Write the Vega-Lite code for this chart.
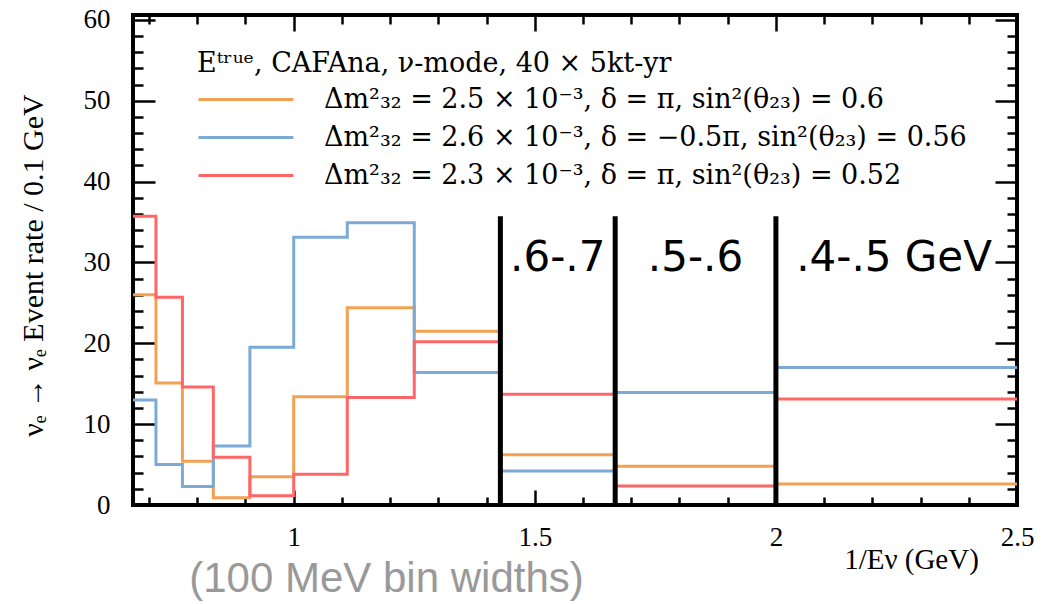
{
  "$schema": "https://vega.github.io/schema/vega-lite/v6.json",
  "width": 884,
  "height": 490,
  "autosize": {"type": "none"},
  "padding": {"left": 133, "top": 15, "right": 24, "bottom": 99},
  "background": "white",
  "config": {
    "view": {"stroke": "black", "strokeWidth": 4},
    "axis": {"grid": false, "domain": false}
  },
  "datasets": {
    "hist": [
      {"series": "Δm²₃₂ = 2.5 × 10⁻³,  δ = π,  sin²(θ₂₃) = 0.6", "x": 0.6667, "rate": 26.0},
      {"series": "Δm²₃₂ = 2.5 × 10⁻³,  δ = π,  sin²(θ₂₃) = 0.6", "x": 0.7143, "rate": 15.1},
      {"series": "Δm²₃₂ = 2.5 × 10⁻³,  δ = π,  sin²(θ₂₃) = 0.6", "x": 0.7692, "rate": 5.4},
      {"series": "Δm²₃₂ = 2.5 × 10⁻³,  δ = π,  sin²(θ₂₃) = 0.6", "x": 0.8333, "rate": 0.9},
      {"series": "Δm²₃₂ = 2.5 × 10⁻³,  δ = π,  sin²(θ₂₃) = 0.6", "x": 0.9091, "rate": 3.5},
      {"series": "Δm²₃₂ = 2.5 × 10⁻³,  δ = π,  sin²(θ₂₃) = 0.6", "x": 1.0, "rate": 13.4},
      {"series": "Δm²₃₂ = 2.5 × 10⁻³,  δ = π,  sin²(θ₂₃) = 0.6", "x": 1.1111, "rate": 24.4},
      {"series": "Δm²₃₂ = 2.5 × 10⁻³,  δ = π,  sin²(θ₂₃) = 0.6", "x": 1.25, "rate": 21.5},
      {"series": "Δm²₃₂ = 2.5 × 10⁻³,  δ = π,  sin²(θ₂₃) = 0.6", "x": 1.4286, "rate": 6.2},
      {"series": "Δm²₃₂ = 2.5 × 10⁻³,  δ = π,  sin²(θ₂₃) = 0.6", "x": 1.6667, "rate": 4.8},
      {"series": "Δm²₃₂ = 2.5 × 10⁻³,  δ = π,  sin²(θ₂₃) = 0.6", "x": 2.0, "rate": 2.6},
      {"series": "Δm²₃₂ = 2.5 × 10⁻³,  δ = π,  sin²(θ₂₃) = 0.6", "x": 2.5, "rate": 2.6},
      {"series": "Δm²₃₂ = 2.6 × 10⁻³,  δ = −0.5π,  sin²(θ₂₃) = 0.56", "x": 0.6667, "rate": 13.0},
      {"series": "Δm²₃₂ = 2.6 × 10⁻³,  δ = −0.5π,  sin²(θ₂₃) = 0.56", "x": 0.7143, "rate": 5.0},
      {"series": "Δm²₃₂ = 2.6 × 10⁻³,  δ = −0.5π,  sin²(θ₂₃) = 0.56", "x": 0.7692, "rate": 2.3},
      {"series": "Δm²₃₂ = 2.6 × 10⁻³,  δ = −0.5π,  sin²(θ₂₃) = 0.56", "x": 0.8333, "rate": 7.3},
      {"series": "Δm²₃₂ = 2.6 × 10⁻³,  δ = −0.5π,  sin²(θ₂₃) = 0.56", "x": 0.9091, "rate": 19.5},
      {"series": "Δm²₃₂ = 2.6 × 10⁻³,  δ = −0.5π,  sin²(θ₂₃) = 0.56", "x": 1.0, "rate": 33.1},
      {"series": "Δm²₃₂ = 2.6 × 10⁻³,  δ = −0.5π,  sin²(θ₂₃) = 0.56", "x": 1.1111, "rate": 34.9},
      {"series": "Δm²₃₂ = 2.6 × 10⁻³,  δ = −0.5π,  sin²(θ₂₃) = 0.56", "x": 1.25, "rate": 16.4},
      {"series": "Δm²₃₂ = 2.6 × 10⁻³,  δ = −0.5π,  sin²(θ₂₃) = 0.56", "x": 1.4286, "rate": 4.2},
      {"series": "Δm²₃₂ = 2.6 × 10⁻³,  δ = −0.5π,  sin²(θ₂₃) = 0.56", "x": 1.6667, "rate": 13.9},
      {"series": "Δm²₃₂ = 2.6 × 10⁻³,  δ = −0.5π,  sin²(θ₂₃) = 0.56", "x": 2.0, "rate": 17.0},
      {"series": "Δm²₃₂ = 2.6 × 10⁻³,  δ = −0.5π,  sin²(θ₂₃) = 0.56", "x": 2.5, "rate": 17.0},
      {"series": "Δm²₃₂ = 2.3 × 10⁻³,  δ = π,  sin²(θ₂₃) = 0.52", "x": 0.6667, "rate": 35.7},
      {"series": "Δm²₃₂ = 2.3 × 10⁻³,  δ = π,  sin²(θ₂₃) = 0.52", "x": 0.7143, "rate": 25.7},
      {"series": "Δm²₃₂ = 2.3 × 10⁻³,  δ = π,  sin²(θ₂₃) = 0.52", "x": 0.7692, "rate": 14.6},
      {"series": "Δm²₃₂ = 2.3 × 10⁻³,  δ = π,  sin²(θ₂₃) = 0.52", "x": 0.8333, "rate": 5.9},
      {"series": "Δm²₃₂ = 2.3 × 10⁻³,  δ = π,  sin²(θ₂₃) = 0.52", "x": 0.9091, "rate": 1.15},
      {"series": "Δm²₃₂ = 2.3 × 10⁻³,  δ = π,  sin²(θ₂₃) = 0.52", "x": 1.0, "rate": 3.8},
      {"series": "Δm²₃₂ = 2.3 × 10⁻³,  δ = π,  sin²(θ₂₃) = 0.52", "x": 1.1111, "rate": 13.3},
      {"series": "Δm²₃₂ = 2.3 × 10⁻³,  δ = π,  sin²(θ₂₃) = 0.52", "x": 1.25, "rate": 20.2},
      {"series": "Δm²₃₂ = 2.3 × 10⁻³,  δ = π,  sin²(θ₂₃) = 0.52", "x": 1.4286, "rate": 13.7},
      {"series": "Δm²₃₂ = 2.3 × 10⁻³,  δ = π,  sin²(θ₂₃) = 0.52", "x": 1.6667, "rate": 2.35},
      {"series": "Δm²₃₂ = 2.3 × 10⁻³,  δ = π,  sin²(θ₂₃) = 0.52", "x": 2.0, "rate": 13.1},
      {"series": "Δm²₃₂ = 2.3 × 10⁻³,  δ = π,  sin²(θ₂₃) = 0.52", "x": 2.5, "rate": 13.1}
    ],
    "edges": [
      {"x": 1.4286, "top": 35.7},
      {"x": 1.6667, "top": 35.7},
      {"x": 2.0, "top": 35.7}
    ],
    "labels": [
      {"label": ".6-.7", "x": 1.5476, "y": 29.0},
      {"label": ".5-.6", "x": 1.8333, "y": 29.0},
      {"label": ".4-.5 GeV", "x": 2.245, "y": 29.0}
    ]
  },
  "layer": [
    {
      "data": {"name": "hist"},
      "mark": {"type": "line", "interpolate": "step-after", "strokeWidth": 3, "clip": true},
      "encoding": {
        "x": {
          "field": "x", "type": "quantitative",
          "scale": {"domain": [0.6667, 2.5], "nice": false, "zero": false},
          "axis": {
            "orient": "bottom", "values": [1, 1.5, 2, 2.5], "ticks": false, "domain": false,
            "labelExpr": "format(datum.value, '~g')",
            "labelFont": "Liberation Serif", "labelFontSize": 27, "labelColor": "black",
            "labelPadding": 19, "labelFlush": false,
            "title": "1/Eν (GeV)", "titleFont": "Liberation Serif", "titleFontSize": 29,
            "titleFontWeight": "normal", "titleColor": "black",
            "titleX": 778, "titleY": 63, "titleAlign": "center", "titleBaseline": "alphabetic"
          }
        },
        "y": {
          "field": "rate", "type": "quantitative",
          "scale": {"domain": [0, 60.6], "nice": false, "zero": true},
          "axis": {
            "orient": "left", "values": [0, 10, 20, 30, 40, 50, 60], "ticks": false, "domain": false,
            "labelFont": "Liberation Serif", "labelFontSize": 27, "labelColor": "black",
            "labelPadding": 23, "labelFlush": false,
            "title": "νₑ → νₑ Event rate / 0.1 GeV", "titleFont": "Liberation Serif", "titleFontSize": 30,
            "titleFontWeight": "normal", "titleColor": "black",
            "titleX": -100, "titleY": 250, "titleAlign": "center", "titleBaseline": "middle", "titleAngle": -90
          }
        },
        "color": {
          "field": "series", "type": "nominal",
          "scale": {
            "domain": [
              "Δm²₃₂ = 2.5 × 10⁻³,  δ = π,  sin²(θ₂₃) = 0.6",
              "Δm²₃₂ = 2.6 × 10⁻³,  δ = −0.5π,  sin²(θ₂₃) = 0.56",
              "Δm²₃₂ = 2.3 × 10⁻³,  δ = π,  sin²(θ₂₃) = 0.52"
            ],
            "range": ["#F2A052", "#7BAAD5", "#FF6666"]
          },
          "legend": {
            "orient": "none", "legendX": 64, "legendY": 36,
            "title": "Eᵗʳᵘᵉ, CAFAna, ν-mode, 40 × 5kt-yr",
            "titleFont": "DejaVu Serif", "titleFontSize": 27, "titleFontWeight": "normal",
            "titleColor": "black", "titleLimit": 0, "titlePadding": 8,
            "labelFont": "DejaVu Serif", "labelFontSize": 27, "labelColor": "black", "labelLimit": 0,
            "symbolType": "M0,0H8", "symbolSize": 564, "symbolStrokeWidth": 3, "symbolOffset": -12,
            "labelOffset": 112, "rowPadding": 10, "padding": 0
          }
        }
      }
    },
    {
      "data": {"name": "edges"},
      "mark": {"type": "rule", "strokeWidth": 5, "color": "black"},
      "encoding": {
        "x": {
          "field": "x", "type": "quantitative",
          "axis": {
            "orient": "bottom", "labels": false, "domain": false, "ticks": true,
            "values": [0.7, 0.8, 0.9, 1, 1.1, 1.2, 1.3, 1.4, 1.5, 1.6, 1.7, 1.8, 1.9, 2, 2.1, 2.2, 2.3, 2.4, 2.5],
            "tickColor": "black", "tickWidth": 2.5,
            "tickSize": {"condition": {"test": "abs(datum.value*2 - round(datum.value*2)) < 0.001", "value": -15}, "value": -8},
            "title": "(100 MeV bin widths)", "titleFont": "Liberation Sans", "titleFontSize": 42,
            "titleFontWeight": "normal", "titleColor": "#999999",
            "titleX": 253, "titleY": 86, "titleAlign": "center", "titleBaseline": "alphabetic"
          }
        },
        "y": {
          "field": "top", "type": "quantitative",
          "axis": {
            "orient": "left", "labels": false, "domain": false, "ticks": true,
            "values": [0, 2, 4, 6, 8, 10, 12, 14, 16, 18, 20, 22, 24, 26, 28, 30, 32, 34, 36, 38, 40, 42, 44, 46, 48, 50, 52, 54, 56, 58, 60],
            "tickColor": "black", "tickWidth": 2.5,
            "tickSize": {"condition": {"test": "datum.value % 10 === 0", "value": -22}, "value": -10},
            "title": null
          }
        },
        "y2": {"datum": 0}
      }
    },
    {
      "data": {"name": "labels"},
      "mark": {"type": "text", "font": "DejaVu Sans", "fontSize": 42, "align": "center", "baseline": "alphabetic", "color": "black"},
      "encoding": {
        "x": {
          "field": "x", "type": "quantitative",
          "axis": {
            "orient": "top", "labels": false, "domain": false, "ticks": true,
            "values": [0.7, 0.8, 0.9, 1, 1.1, 1.2, 1.3, 1.4, 1.5, 1.6, 1.7, 1.8, 1.9, 2, 2.1, 2.2, 2.3, 2.4, 2.5],
            "tickColor": "black", "tickWidth": 2.5,
            "tickSize": {"condition": {"test": "abs(datum.value*2 - round(datum.value*2)) < 0.001", "value": -16}, "value": -9},
            "title": null
          }
        },
        "y": {
          "field": "y", "type": "quantitative",
          "axis": {
            "orient": "right", "labels": false, "domain": false, "ticks": true,
            "values": [0, 2, 4, 6, 8, 10, 12, 14, 16, 18, 20, 22, 24, 26, 28, 30, 32, 34, 36, 38, 40, 42, 44, 46, 48, 50, 52, 54, 56, 58, 60],
            "tickColor": "black", "tickWidth": 2.5,
            "tickSize": {"condition": {"test": "datum.value % 10 === 0", "value": -22}, "value": -10},
            "title": null
          }
        },
        "text": {"field": "label"}
      }
    }
  ],
  "resolve": {"axis": {"x": "independent", "y": "independent"}}
}
